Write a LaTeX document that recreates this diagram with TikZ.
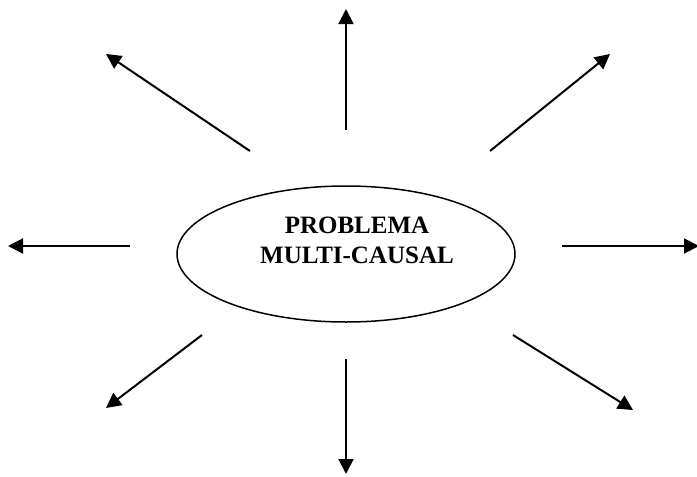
\documentclass[tikz,border=0pt]{standalone}
\usepackage{fontspec}
\setmainfont{Liberation Serif}
\usetikzlibrary{arrows.meta,shapes.geometric}
\begin{document}
\begin{tikzpicture}[x=1pt,y=-1pt,
  outarrow/.style={line width=2pt,-{Triangle[length=15pt,width=15pt]}},
  mainellipse/.style={draw,line width=1.5pt,ellipse,minimum width=338pt,minimum height=136pt,inner sep=0pt}]
\useasboundingbox (0,0) rectangle (697,477);
\node[mainellipse] (c) at (346,254) {};
\node[font=\fontsize{25}{30}\selectfont\bfseries,align=center] (t) at (357,240) {PROBLEMA\\MULTI-CAUSAL};
\coordinate (n1) at (346,130); \coordinate (n2) at (346,9);
\coordinate (nw1) at (250,151); \coordinate (nw2) at (106,54);
\coordinate (ne1) at (490,151); \coordinate (ne2) at (610,54);
\coordinate (w1) at (130,246); \coordinate (w2) at (8,246);
\coordinate (e1) at (562,246); \coordinate (e2) at (699,246);
\coordinate (sw1) at (202,335); \coordinate (sw2) at (106,408);
\coordinate (s1) at (346,359); \coordinate (s2) at (346,474);
\coordinate (se1) at (513,335); \coordinate (se2) at (633,410);
\foreach \a in {n,nw,ne,w,e,sw,s,se}{\draw[outarrow] (\a1) -- (\a2);}
\end{tikzpicture}
\end{document}
